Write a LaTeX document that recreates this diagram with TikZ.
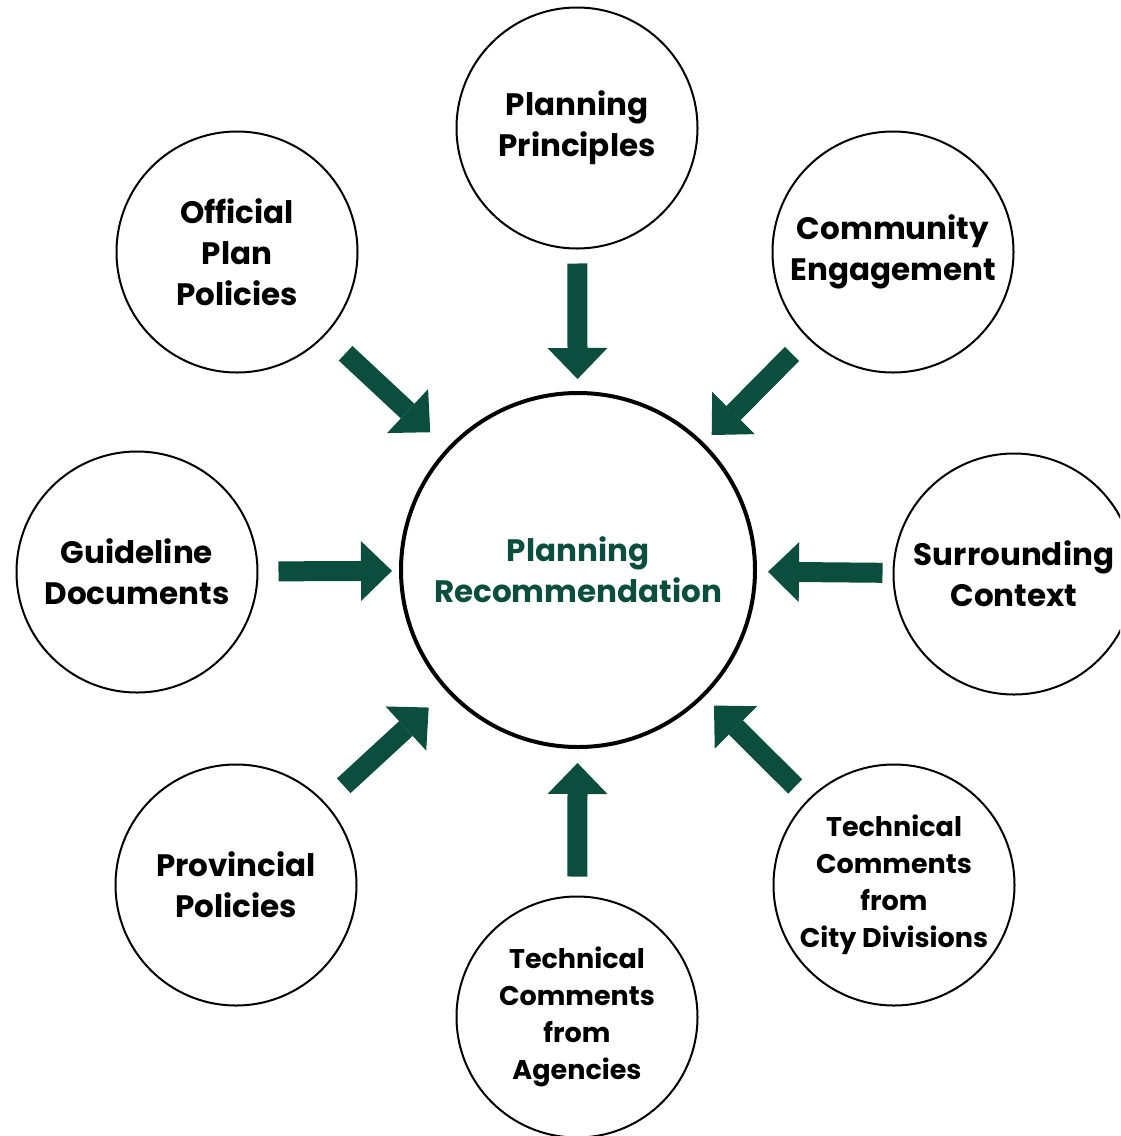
\documentclass[tikz,border=0pt]{standalone}
\usepackage{fontspec}
\setsansfont{Poppins}
\usetikzlibrary{arrows.meta}
\definecolor{plangreen}{RGB}{12,78,62}

\begin{document}
\begin{tikzpicture}[x=1pt,y=-1pt,
    input node/.style={circle,draw,line width=2pt,minimum size=241pt,inner sep=0pt,align=center,font=\sffamily\bfseries\fontsize{31}{41}\selectfont},
    small text/.style={font=\sffamily\bfseries\fontsize{27}{37}\selectfont},
    main node/.style={circle,draw,line width=4pt,minimum size=354pt,inner sep=0pt,align=center,text=plangreen,font=\sffamily\bfseries\fontsize{31}{41}\selectfont},
    big arrow/.style={line width=20pt,plangreen,-{Triangle[width=60pt,length=31pt,line width=0pt]}}]
            \useasboundingbox[fill=white] (0,0) rectangle (1120,1136);
            \clip (0,0) rectangle (1120,1136);

            \node[main node] at (578, 570) (rec) {Planning\\Recommendation};

            \node[input node] at (577, 128) (pp) {Planning\\Principles};
            \node[input node] at (893, 252) (ce) {Community\\Engagement};
            \node[input node] at (1014, 574) (sc) {Surrounding\\Context};
            \node[input node, small text] at (894, 885) (cd) {Technical\\Comments\\from\\City Divisions};
            \node[input node, small text] at (577, 1017) (ag) {Technical\\Comments\\from\\Agencies};
            \node[input node] at (236, 885) (pv) {Provincial\\Policies};
            \node[input node] at (137, 572) (gd) {Guideline\\Documents};
            \node[input node] at (237, 252) (op) {Official\\Plan\\Policies};

            % arrows into the recommendation
            \path[big arrow] (pp) edge[shorten <=14pt, shorten >=12pt] (rec);
            \path[big arrow] (ce) edge[shorten <=22pt, shorten >=11pt] (rec);
            \path[big arrow] (sc) edge[shorten <=10pt, shorten >=11pt] (rec);
            \path[big arrow] (cd) edge[shorten <=18pt, shorten >=13pt] (rec);
            \path[big arrow] (ag) edge[shorten <=19pt, shorten >=14pt] (rec);
            \path[big arrow] (pv) edge[shorten <=25pt, shorten >=24pt] (rec);
            \path[big arrow] (gd) edge[shorten <=20pt, shorten >=7pt] (rec);
            \path[big arrow] (op) edge[shorten <=27pt, shorten >=23pt] (rec);
        \end{tikzpicture}
\end{document}
